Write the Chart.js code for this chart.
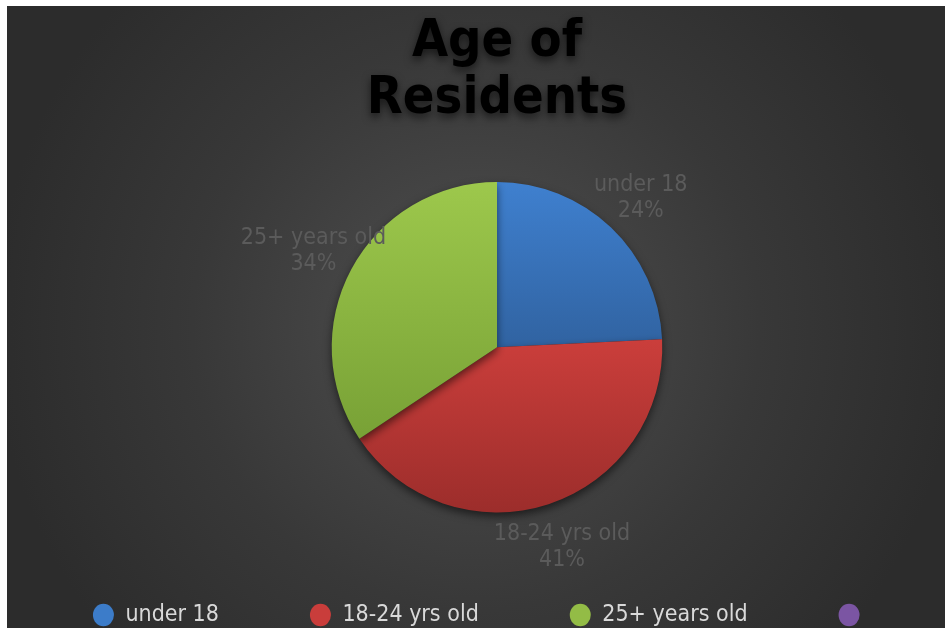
<!DOCTYPE html>
<html>
<head>
<meta charset="utf-8">
<title>Age of Residents</title>
<script src="https://cdn.jsdelivr.net/npm/chart.js@4.4.1/dist/chart.umd.min.js"></script>
<style>
  html, body { margin: 0; padding: 0; background: #fff; overflow: hidden; }
  #wrap {
    position: absolute; left: 7px; top: 6px; width: 938px; height: 640px;
    background: radial-gradient(circle farthest-corner at 50% 50%, #4b4b4b 0%, #444 25%, #383838 50%, #2c2c2c 85%);
  }
</style>
</head>
<body>
<div id="wrap"><canvas id="ageChart"></canvas></div>
<script>
// Chart data
const categories = ["under 18", "18-24 yrs old", "25+ years old", ""];
const residents = [24, 41, 34, 0];
const titleLines = ["Age of", "Residents"];

// Colours (legend solid, slices shaded top to bottom)
const sliceColors = ["#3c7cc9", "#c93d3b", "#93bc46", "#7b55a3"];
const sliceShades = [
  [[0, "#3f80cf"], [0.48, "#3164a3"], [1, "#2a5690"]],
  [[0, "#d24240"], [0.45, "#cd3f3c"], [1, "#9c2d2b"]],
  [[0, "#9dc84c"], [0.8, "#77a035"], [1, "#70962f"]],
  [[0, "#7b55a3"], [1, "#6a468f"]],
];

const fontFamily = '"DejaVu Sans Condensed", "DejaVu Sans", sans-serif';

function sliceFill(ctx) {
  const area = ctx.chart.chartArea;
  const i = ctx.dataIndex;
  if (!area) return sliceColors[i];
  const g = ctx.chart.ctx.createLinearGradient(0, area.top, 0, area.bottom);
  sliceShades[i].forEach(([o, c]) => g.addColorStop(o, c));
  return g;
}

// Shadow behind the title text
const titleShadow = {
  id: "titleShadow",
  beforeDraw(chart) {
    const block = chart.titleBlock;
    if (!block || block._shadowed) return;
    const draw = block.draw.bind(block);
    block.draw = function (area) {
      const c = chart.ctx;
      c.save();
      c.shadowColor = "rgba(0,0,0,0.6)";
      c.shadowBlur = 8;
      c.shadowOffsetY = 4;
      draw(area);
      c.restore();
    };
    block._shadowed = true;
  },
};

// Keep all legend items on one row, a bit left of the pie centre
const legendRow = {
  id: "legendRow",
  afterInit(chart) {
    const lg = chart.legend;
    const update = lg.update.bind(lg);
    lg.update = (w, h, m) => update(w + 200, h, m);
  },
  afterLayout(chart) {
    chart.legend.left -= 215;
    chart.legend.right += 185;
  },
};

// Pie shadow + outside labels
const pieDecor = {
  id: "pieDecor",
  beforeDatasetsDraw(chart) {
    const c = chart.ctx;
    c.save();
    c.shadowColor = "rgba(0,0,0,0.55)";
    c.shadowBlur = 9;
    c.shadowOffsetY = 4;
  },
  afterDatasetsDraw(chart) {
    const c = chart.ctx;
    c.restore();
    const total = residents.reduce((a, b) => a + b, 0);
    const meta = chart.getDatasetMeta(0);
    c.save();
    c.font = "23px " + fontFamily;
    c.fillStyle = "#5b5b5b";
    c.textAlign = "center";
    c.textBaseline = "middle";
    meta.data.forEach((arc, i) => {
      if (!residents[i]) return;
      const p = arc.getProps(["x", "y", "startAngle", "endAngle", "outerRadius"], true);
      const mid = (p.startAngle + p.endAngle) / 2;
      const r = p.outerRadius + 43;
      const x = p.x + Math.cos(mid) * r;
      const y = p.y + Math.sin(mid) * r + 2;
      c.fillText(categories[i], x, y - 13);
      c.fillText(Math.round((residents[i] / total) * 100) + "%", x, y + 13);
    });
    c.restore();
  },
};

new Chart(document.getElementById("ageChart"), {
  type: "pie",
  data: {
    labels: categories,
    datasets: [
      {
        data: residents,
        backgroundColor: sliceFill,
        borderWidth: 0,
      },
    ],
  },
  options: {
    responsive: true,
    maintainAspectRatio: false,
    animation: false,
    layout: { padding: { left: 42, right: 0, top: 0, bottom: 9.5 } },
    plugins: {
      title: {
        display: true,
        text: titleLines,
        color: "#000",
        font: { family: fontFamily, size: 52, weight: "bold", lineHeight: 1.115 },
        padding: { top: 7, bottom: 53 },
      },
      legend: {
        position: "bottom",
        labels: {
          color: "#d9d9d9",
          font: { family: fontFamily, size: 23 },
          usePointStyle: true,
          pointStyle: "circle",
          boxHeight: 16,
          pointStyleWidth: 21,
          padding: 91,
          generateLabels(chart) {
            const items = Chart.overrides.pie.plugins.legend.labels.generateLabels(chart);
            items.forEach((it, i) => {
              it.fillStyle = sliceColors[i];
              it.strokeStyle = sliceColors[i];
              it.lineWidth = 0;
            });
            return items;
          },
        },
      },
      tooltip: { enabled: false },
    },
  },
  plugins: [titleShadow, legendRow, pieDecor],
});
</script>
</body>
</html>
